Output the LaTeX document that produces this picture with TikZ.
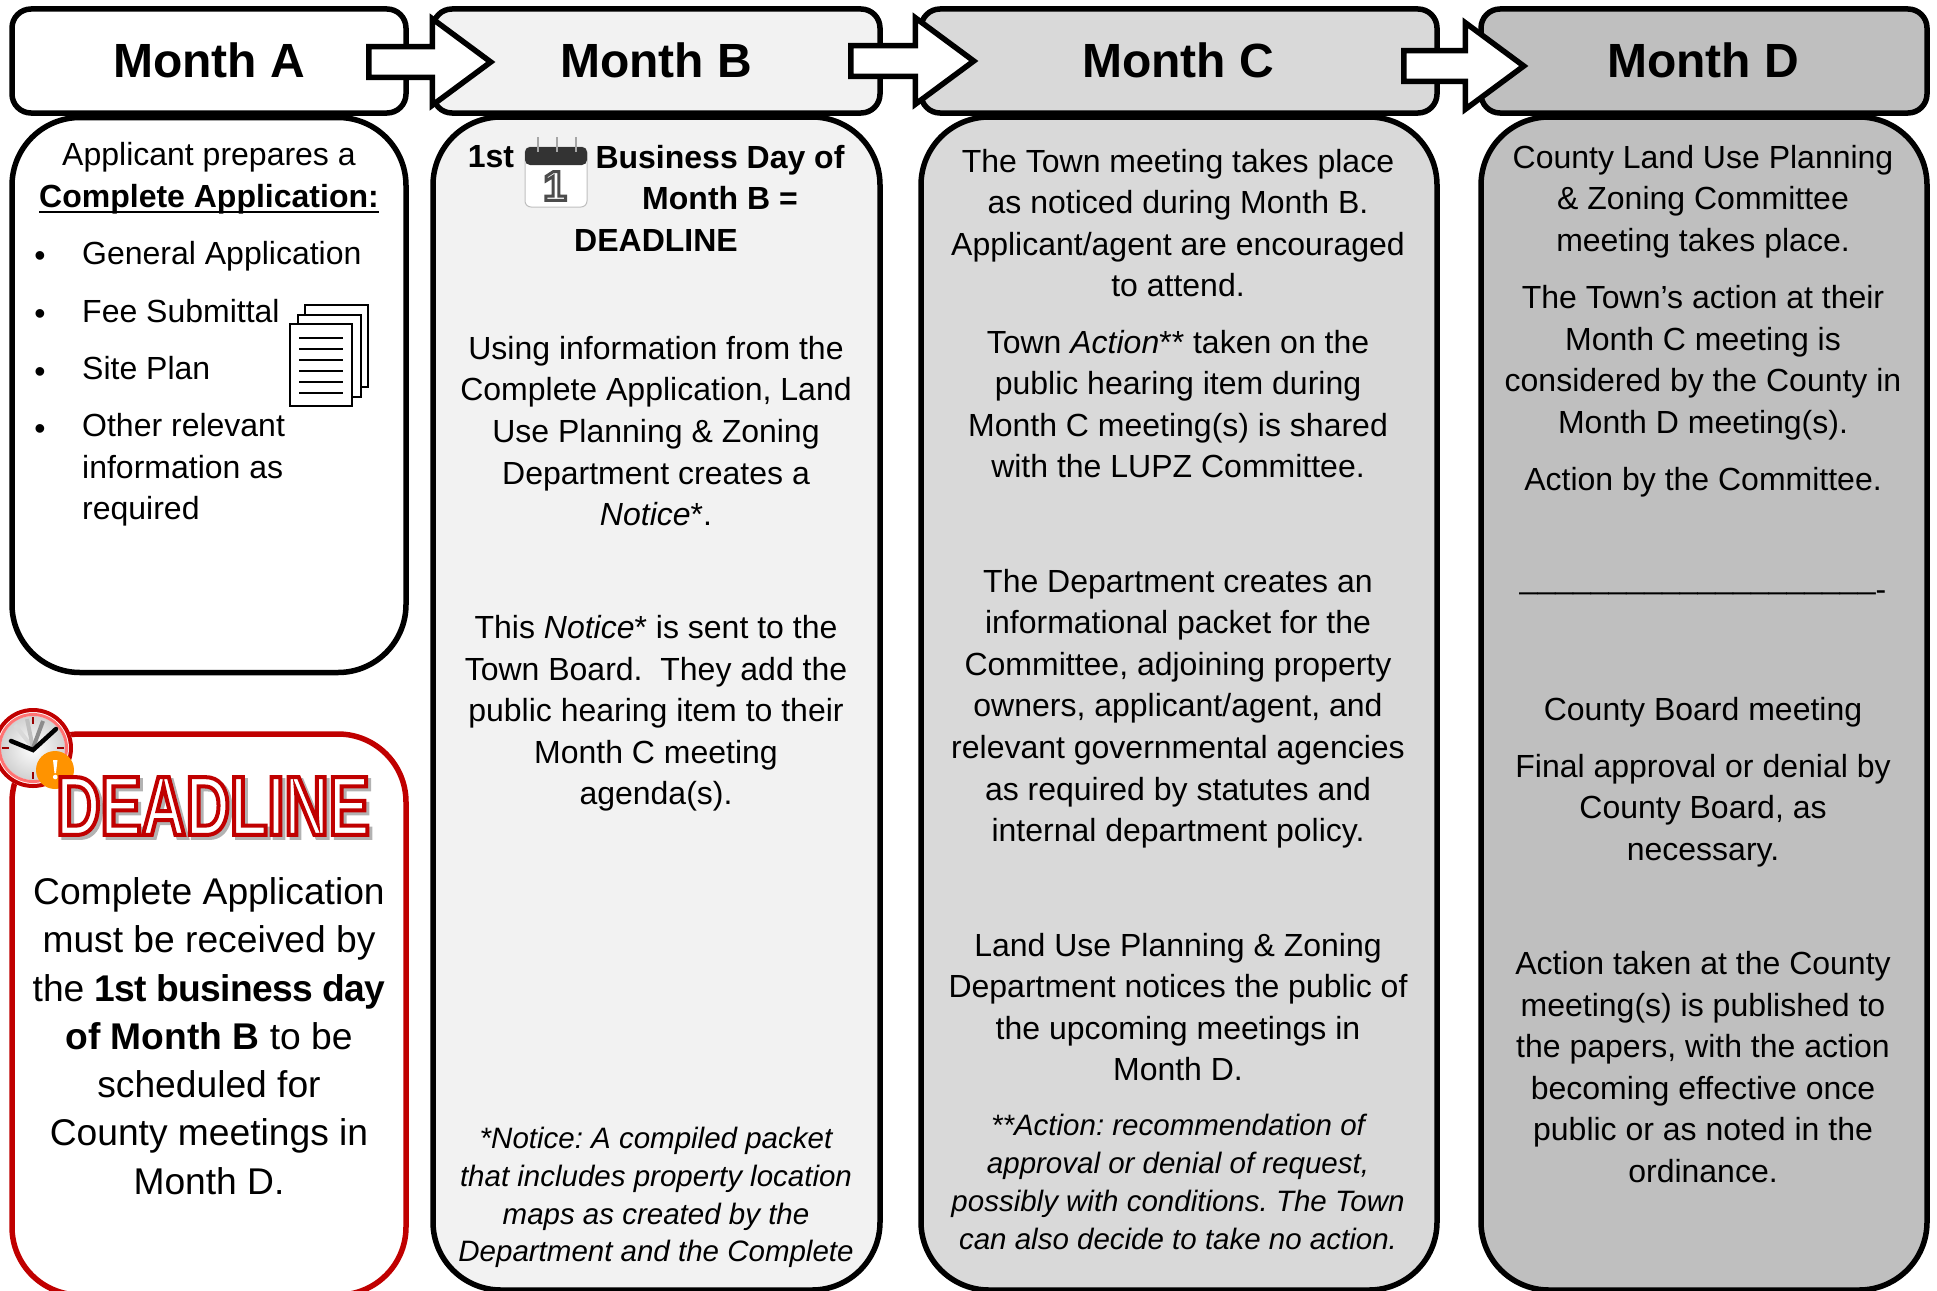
\documentclass[tikz,border=0pt]{standalone}
\usepackage{fontspec}
\setmainfont{Liberation Sans}
\usepackage{tikz}
\usetikzlibrary{shapes.arrows}
\newfontfamily\stampfont[FakeStretch=0.73]{Liberation Sans Bold}
\newfontfamily\tightbold[LetterSpace=-1.9]{Liberation Sans Bold}
\definecolor{deadred}{HTML}{C00000}
\definecolor{fillB}{HTML}{F2F2F2}
\definecolor{fillC}{HTML}{D9D9D9}
\definecolor{fillD}{HTML}{BFBFBF}
\newcommand{\outlined}[3]{\special{pdf:code q 2 Tr #1 w #2 RG #3 rg}}
\newcommand{\unoutlined}{\special{pdf:code Q}}
\newcommand{\thickunder}[1]{\sbox0{#1}\rlap{\rule[-6pt]{\wd0}{2.5pt}}\usebox0}
\tikzset{
  monthbox/.style={draw, line width=5.5pt, rounded corners=19pt, minimum height=104pt},
  bodybox/.style={draw, line width=5.5pt, rounded corners=68pt},
  monthtext/.style={font=\fontsize{48}{56}\selectfont\bfseries},
  bodytext/.style={align=center, inner sep=0pt, font=\fontsize{32}{41.6}\selectfont},
  boldtext/.style={inner sep=0pt, font=\fontsize{32}{41.6}\selectfont\bfseries},
  notetext/.style={align=center, inner sep=0pt, font=\fontsize{29.5}{37.8}\selectfont\itshape},
  listtext/.style={align=left, anchor=west, inner sep=0pt, font=\fontsize{32}{41.6}\selectfont},
  bulletmark/.style={inner sep=0pt, font=\fontsize{32}{41.6}\selectfont},
  bigtext/.style={align=center, inner sep=0pt, font=\fontsize{37.2}{48.3}\selectfont},
  stamptext/.style={inner sep=0pt, font=\fontsize{84}{84}\stampfont},
  nextarrow/.style={draw, fill=white, line width=5.5pt, single arrow, anchor=tail, inner xsep=0pt, inner ysep=12.5pt,
    single arrow head extend=28pt, single arrow tip angle=73},
  sheet/.style={draw, fill=white, line width=2pt}
}
\begin{document}
\frenchspacing
\begin{tikzpicture}[x=1pt, y=-1pt]
\useasboundingbox (0,0) rectangle (1937,1290);
\clip (0,0) rectangle (1937,1290);

\node[monthbox, minimum width=394pt] (headA) at (209,61) {};
\node[monthbox, minimum width=447pt, fill=fillB] (headB) at (656.5,61) {};
\node[monthbox, minimum width=516pt, fill=fillC] (headC) at (1179,61) {};
\node[monthbox, minimum width=446pt, fill=fillD] (headD) at (1704,61) {};
\node[monthtext] (titleA) at (209,60) {Month A};
\node[monthtext] (titleB) at (656,60) {Month B};
\node[monthtext] (titleC) at (1178,60) {Month C};
\node[monthtext] (titleD) at (1703,60) {Month D};

\node[bodybox, minimum width=394pt, minimum height=555pt] (bodyA) at (209,395) {};
\node[bodybox, minimum width=447pt, minimum height=1173pt, fill=fillB] (bodyB) at (656.5,703.5) {};
\node[bodybox, minimum width=516pt, minimum height=1173pt, fill=fillC] (bodyC) at (1179,703.5) {};
\node[bodybox, minimum width=446pt, minimum height=1173pt, fill=fillD] (bodyD) at (1704,703.5) {};
\node[bodybox, draw=deadred, minimum width=394pt, minimum height=561pt] (bodyDead) at (209,1014.5) {};

\node[nextarrow, minimum height=122pt] (arrowAB) at (366,62) {};
\node[nextarrow, minimum height=123pt] (arrowBC) at (848,61) {};
\node[nextarrow, minimum height=120pt] (arrowCD) at (1401,66) {};

\node[bodytext] (prepares) at (209,178) {Applicant prepares a\\ \thickunder{\textbf{Complete Application:}}};
\node[bulletmark] (dotA) at (40,259) {\textbullet};
\node[bulletmark] (dotB) at (40,317) {\textbullet};
\node[bulletmark] (dotC) at (40,375) {\textbullet};
\node[bulletmark] (dotD) at (40,432) {\textbullet};
\node[listtext] (itemA) at (82,256) {General Application};
\node[listtext] (itemB) at (82,311) {Fee Submittal};
\node[listtext] (itemC) at (82,368) {Site Plan};
\node[listtext] (itemD) at (82,470) {Other relevant\\ information as\\ required};

\draw[sheet] (305,305) rectangle (368,387);
\draw[sheet] (298,315) rectangle (361,397);
\draw[sheet] (290,324) rectangle (352,406);
\foreach \liney in {338,349,360,371,382,393}
  \draw[line width=1.5pt] (299,\liney) -- (343,\liney);

\fill[white] (33,748) circle (40);
\shade[inner color=white, outer color=black!18] (33,748) circle (32);
\draw[deadred, line width=4pt] (33,748) circle (38);
\draw[red!55, line width=3pt] (33,748) circle (33.5);
\foreach \tx/\ty/\ux/\uy in {33/717/33/724, 33/772/33/779, 2/748/9/748, 57/748/64/748}
  \draw[deadred!80!black, line width=1.5pt] (\tx,\ty) -- (\ux,\uy);
\draw[black!15, line width=4pt] (33,748) -- (15,725);
\draw[black!25, line width=4pt] (33,748) -- (27,719);
\draw[black!45, line width=4pt] (33,748) -- (43,721);
\draw[line width=4.5pt, line cap=round] (11,741) -- (33,750) -- (56,729);
\fill[orange!85!yellow] (55,770) circle (19);
\fill[white] (53,760) -- (57.5,760) -- (56,773) -- (54.5,773) -- cycle;
\fill[white] (55.2,777) circle (2.3);

\node[stamptext] (stampShadow) at (216,809) {\outlined{4}{0.7 0.7 0.7}{0.7 0.7 0.7}DEADLINE\unoutlined};
\node[stamptext] (stamp) at (213,806) {\outlined{4}{0.753 0 0}{1 1 1}DEADLINE\unoutlined};

\node[bigtext] (deadlineNote) at (209,1036) {Complete Application\\ must be received by\\ the {\tightbold 1st business day}\\ \textbf{of Month B} to be\\ scheduled for\\ County meetings in\\ Month D.};

\node[boldtext] (first) at (491,157) {1st};
\node[boldtext] (business) at (720,160) {Business Day of};
\node[boldtext] (monthB) at (720,198) {Month B =};
\node[boldtext] (deadlineB) at (656,240) {DEADLINE};

\fill[white, draw=black!25, line width=1pt, rounded corners=6pt] (525,147) rectangle (587,207);
\fill[black!80, rounded corners=5pt] (525,165) -- (525,147) -- (587,147) -- (587,165) -- cycle;
\foreach \ringx in {538,557,576}
  \draw[black!35, line width=1.5pt] (\ringx,137) -- (\ringx,152);
\node[inner sep=0pt, font=\fontsize{42}{42}\selectfont\bfseries] (dayOne) at (555,186) {\outlined{3}{0.3 0.3 0.3}{1 1 1}1\unoutlined};

\node[bodytext] (usingInfo) at (656,431) {Using information from the\\ Complete Application, Land\\ Use Planning \& Zoning\\ Department creates a\\ \textit{Notice}*.};
\node[bodytext] (sentTown) at (656,713.5) {This \textit{Notice}* is sent to the\\ Town Board.\ \ They add the\\ public hearing item to their\\ Month C meeting\\ agenda(s).};
\node[notetext] (noticeNote) at (656,1197.5) {*Notice: A compiled packet\\ that includes property location\\ maps as created by the\\ Department and the Complete};

\node[bodytext] (townMeet) at (1178,223) {The Town meeting takes place\\ as noticed during Month B.\\ Applicant/agent are encouraged\\ to attend.};
\node[bodytext] (townAction) at (1178,404) {Town \textit{Action}** taken on the\\ public hearing item during\\ Month C meeting(s) is shared\\ with the LUPZ Committee.};
\node[bodytext] (packet) at (1178,708.7) {The Department creates an\\ informational packet for the\\ Committee, adjoining property\\ owners, applicant/agent, and\\ relevant governmental agencies\\ as required by statutes and\\ internal department policy.};
\node[bodytext] (notices) at (1178,1007) {Land Use Planning \& Zoning\\ Department notices the public of\\ the upcoming meetings in\\ Month D.};
\node[notetext] (actionNote) at (1178,1182) {**Action: recommendation of\\ approval or denial of request,\\ possibly with conditions. The Town\\ can also decide to take no action.};

\node[bodytext] (countyMeet) at (1703,201.7) {County Land Use Planning\\ \& Zoning Committee\\ meeting takes place.};
\node[bodytext] (townsAction) at (1703,362.7) {The Town’s action at their\\ Month C meeting is\\ considered by the County in\\ Month D meeting(s).};
\node[bodytext] (byCommittee) at (1703,482.7) {Action by the Committee.};
\node[bodytext] (rule) at (1703,592) {\_\_\_\_\_\_\_\_\_\_\_\_\_\_\_\_\_\_\_\_\raisebox{-12pt}[0pt][0pt]{-}};
\node[bodytext] (boardMeet) at (1703,712.7) {County Board meeting};
\node[bodytext] (finalApp) at (1703,810.5) {Final approval or denial by\\ County Board, as\\ necessary.};
\node[bodytext] (published) at (1703,1067) {Action taken at the County\\ meeting(s) is published to\\ the papers, with the action\\ becoming effective once\\ public or as noted in the\\ ordinance.};
\end{tikzpicture}
\end{document}
